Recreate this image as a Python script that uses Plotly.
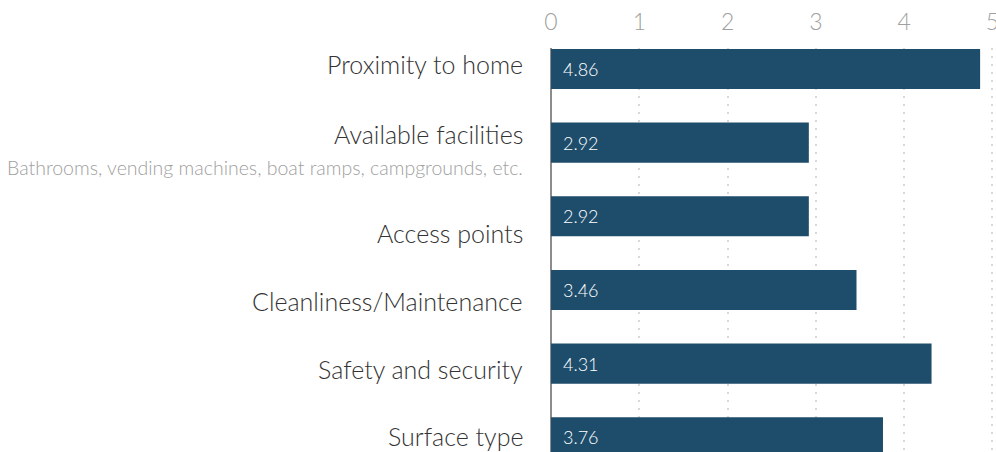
import plotly.graph_objects as go

# survey data
factors = ["Proximity to home", "Available facilities", "Access points",
           "Cleanliness/Maintenance", "Safety and security", "Surface type"]
subtitles = ["", "Bathrooms, vending machines, boat ramps, campgrounds, etc.", "", "", "", ""]
scores = [4.86, 2.92, 2.92, 3.46, 4.31, 3.76]
x_ticks = [0, 1, 2, 3, 4, 5]

BAR = "#1e4d6b"
FONT = "Lato"

# label nudges (px, positive = down) so the left labels sit like the original
label_nudge = [-5, -9, 17, 11, 5, -1]
sub_nudge = 25

fig = go.Figure()
fig.add_trace(go.Bar(
    x=scores, y=factors, orientation="h",
    marker=dict(color=BAR, line=dict(width=0)),
    texttemplate="\u2002%{x:.2f}",
    textposition="inside", insidetextanchor="start",
    textfont=dict(family=FONT, size=18, color="white", weight=300),
    constraintext="none",
    hoverinfo="skip",
))

for f, s, dy in zip(factors, subtitles, label_nudge):
    fig.add_annotation(
        x=0, xref="paper", xanchor="right", xshift=-24,
        y=f, yref="y", yshift=-dy, yanchor="middle",
        text=f, showarrow=False,
        font=dict(family=FONT, size=25, color="#333333", weight=300),
    )
    if s:
        fig.add_annotation(
            x=0, xref="paper", xanchor="right", xshift=-24,
            y=f, yref="y", yshift=-sub_nudge, yanchor="middle",
            text=s, showarrow=False,
            font=dict(family=FONT, size=19.5, color="#a0a0a0", weight=300),
        )

fig.update_layout(
    width=996, height=452,
    margin=dict(l=549, r=0, t=48, b=0, autoexpand=False),
    paper_bgcolor="white", plot_bgcolor="white",
    bargap=0.455,
    showlegend=False,
    font=dict(family=FONT),
)
fig.update_xaxes(
    side="top", range=[-0.023, 5.04], automargin=False,
    tickvals=x_ticks, ticktext=[str(t) for t in x_ticks],
    tickfont=dict(family=FONT, size=23, color="#a0a0a0", weight=300),
    ticklabelstandoff=12, ticklabeloverflow="allow",
    showgrid=True, gridcolor="#d8d8d8", gridwidth=2, griddash="2px,6px",
    zeroline=True, zerolinecolor="#8c8c8c", zerolinewidth=2,
    showline=False, ticks="",
)
fig.update_yaxes(
    categoryorder="array", categoryarray=factors,
    range=[5.20, -0.285], automargin=False,
    showticklabels=False,
    showgrid=False, zeroline=False, showline=False, ticks="",
)

# drop the page's default body margin so the figure sits flush in the window
fig.write_html("out.html",
               config={"displayModeBar": False},
               post_script="document.body.style.margin='0';document.body.style.overflow='hidden';")
